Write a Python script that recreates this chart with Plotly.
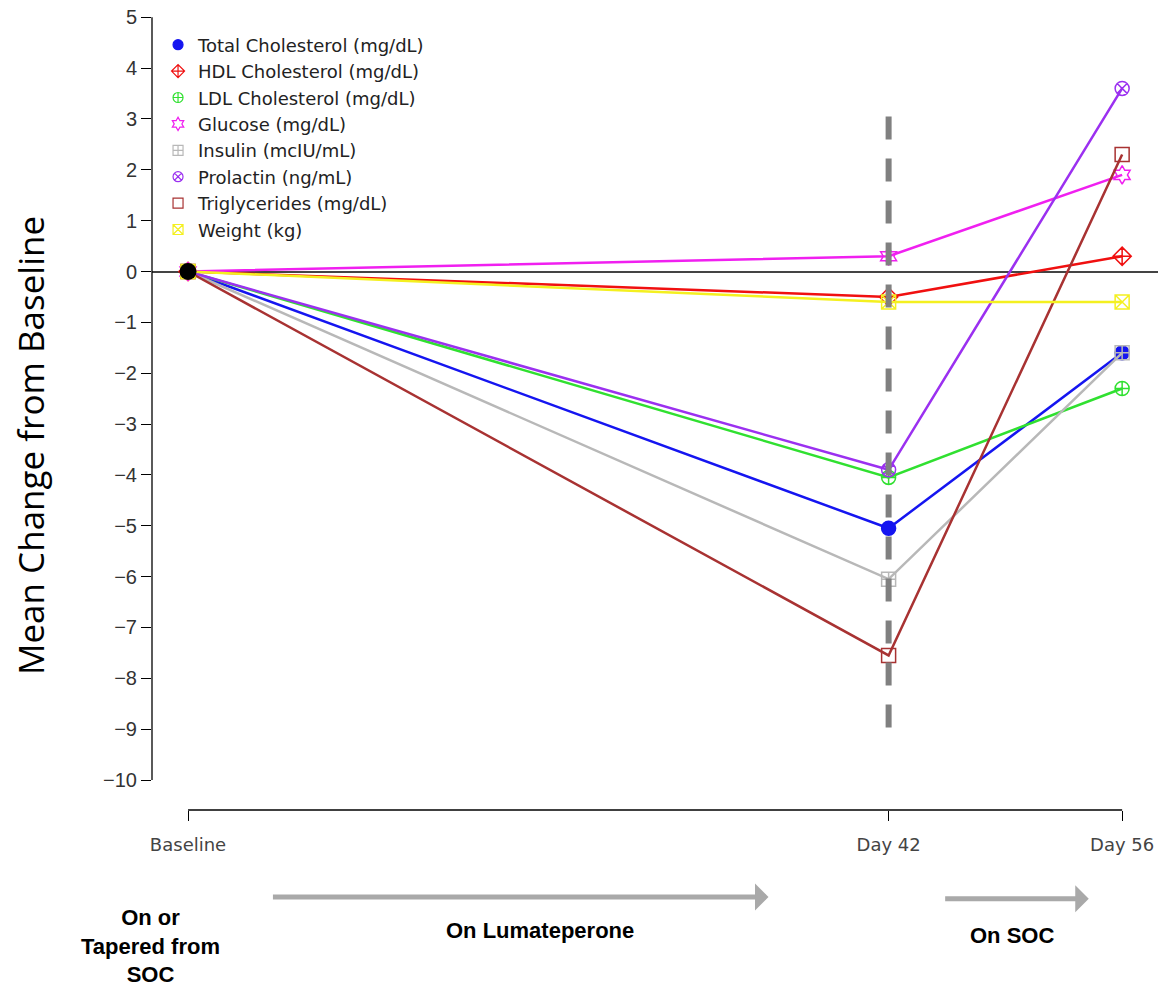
import plotly.graph_objects as go

# ---- data ----
days = [0, 42, 56]
tick_labels = ["Baseline", "Day 42", "Day 56"]

series_names = [
    "Total Cholesterol (mg/dL)",
    "HDL Cholesterol (mg/dL)",
    "LDL Cholesterol (mg/dL)",
    "Glucose (mg/dL)",
    "Insulin (mcIU/mL)",
    "Prolactin (ng/mL)",
    "Triglycerides (mg/dL)",
    "Weight (kg)",
]
total_chol = [0, -5.05, -1.6]
hdl_chol = [0, -0.5, 0.3]
ldl_chol = [0, -4.05, -2.3]
glucose = [0, 0.3, 1.9]
insulin = [0, -6.05, -1.6]
prolactin = [0, -3.9, 3.6]
triglycerides = [0, -7.55, 2.3]
weight = [0, -0.6, -0.6]

y_ticks = list(range(-10, 6))
marker_line_day = days[1]
marker_line_extent = [3.05, -9.15]
baseline_point = [0]

series_values = [total_chol, hdl_chol, ldl_chol, glucose, insulin,
                 prolactin, triglycerides, weight]

colors = ["#1515f0", "#f01010", "#30e030", "#f020f0",
          "#b8b8b8", "#9b30f0", "#a83232", "#f4f020"]
symbols = ["circle", "diamond-cross-open", "circle-cross-open", "hexagram-open",
           "square-cross-open", "circle-x-open", "square-open", "square-x-open"]

fig = go.Figure()

for name, vals, col, sym in zip(series_names, series_values, colors, symbols):
    fig.add_trace(go.Scatter(
        x=days, y=vals, mode="lines+markers", name=name, showlegend=False,
        line=dict(color=col, width=2.5),
        marker=dict(symbol=sym, size=14, color=col, line=dict(color=col, width=1.5)),
        cliponaxis=False, hoverinfo="skip",
    ))

# legend-only entries (markers only, as in the reference)
for name, col, sym in zip(series_names, colors, symbols):
    fig.add_trace(go.Scatter(
        x=[None], y=[None], mode="markers", name=name, showlegend=True,
        marker=dict(symbol=sym, size=10, color=col, line=dict(color=col, width=1.2)),
    ))

# dashed vertical marker at Day 42
fig.add_trace(go.Scatter(
    x=[marker_line_day, marker_line_day], y=marker_line_extent, mode="lines",
    line=dict(color="#808080", width=6, dash="23px,19px"),
    showlegend=False, hoverinfo="skip",
))

# baseline black point
fig.add_trace(go.Scatter(
    x=[days[0]], y=baseline_point, mode="markers",
    marker=dict(color="black", size=17, symbol="circle"),
    showlegend=False, hoverinfo="skip", cliponaxis=False,
))

# axis lines (R style, spanning only the data extents)
fig.add_shape(type="line", xref="paper", yref="y", x0=0, x1=0,
              y0=min(y_ticks), y1=max(y_ticks), line=dict(color="black", width=1.3))
fig.add_shape(type="line", xref="x", yref="paper", x0=days[0], x1=days[-1],
              y0=0, y1=0, line=dict(color="black", width=1.3))

# y axis title
fig.add_annotation(text="Mean Change from Baseline", xref="paper", yref="paper",
                   x=0, y=0.459, xanchor="center", yanchor="middle", xshift=-122,
                   textangle=-90, showarrow=False,
                   font=dict(family="Open Sans", size=35, color="black"))

# phase arrows
arrow_col = "#a9a9a9"
fig.add_annotation(xref="x", yref="paper", x=34.8, y=-0.1097, axref="x", ayref="pixel",
                   ax=5.0, ay=0, showarrow=True, arrowhead=1, arrowsize=0.9,
                   arrowwidth=5, arrowcolor=arrow_col, text="")
fig.add_annotation(xref="x", yref="paper", x=54.0, y=-0.112, axref="x", ayref="pixel",
                   ax=45.3, ay=0, showarrow=True, arrowhead=1, arrowsize=0.9,
                   arrowwidth=5, arrowcolor=arrow_col, text="")

bold_font = dict(family="Liberation Sans", size=22, color="black")
fig.add_annotation(text="<b>On or<br>Tapered from<br>SOC</b>", xref="paper", yref="paper",
                   x=(150 - 152) / 1006, y=-0.117, xanchor="center", yanchor="top",
                   showarrow=False, font=bold_font, align="center")
fig.add_annotation(text="<b>On Lumateperone</b>", xref="paper", yref="paper",
                   x=(540 - 152) / 1006, y=-0.152, xanchor="center", yanchor="middle",
                   showarrow=False, font=bold_font)
fig.add_annotation(text="<b>On SOC</b>", xref="paper", yref="paper",
                   x=(1012 - 152) / 1006, y=-0.158, xanchor="center", yanchor="middle",
                   showarrow=False, font=bold_font)

fig.update_layout(
    width=1158, height=987,
    margin=dict(l=152, r=0, t=17, b=177),
    plot_bgcolor="white", paper_bgcolor="white",
    xaxis=dict(range=[-2.16, 58.15], tickvals=days, ticktext=tick_labels,
               ticks="outside", ticklen=10, tickwidth=1.3, tickcolor="black",
               ticklabelstandoff=8,
               showline=False, showgrid=False, zeroline=False,
               tickfont=dict(family="DejaVu Sans", size=18, color="#444444")),
    yaxis=dict(range=[-10.59, 5.005], tickvals=y_ticks,
               ticks="outside", ticklen=10, tickwidth=1.3, tickcolor="black",
               showline=False, showgrid=False,
               zeroline=True, zerolinecolor="#444444", zerolinewidth=1.5,
               tickfont=dict(family="Liberation Sans", size=20, color="#333333")),
    legend=dict(x=0.006, y=0.988, xanchor="left", yanchor="top",
                bgcolor="rgba(255,255,255,0)", borderwidth=0,
                font=dict(family="DejaVu Sans", size=18, color="#222222"),
                itemwidth=30, tracegroupgap=0),
    showlegend=True,
)

# remove the default page margin so the figure fills the window exactly
fig.write_html(
    "out.html",
    config={"displayModeBar": False},
    post_script="document.body.style.margin='0';document.body.style.overflow='hidden';",
)
